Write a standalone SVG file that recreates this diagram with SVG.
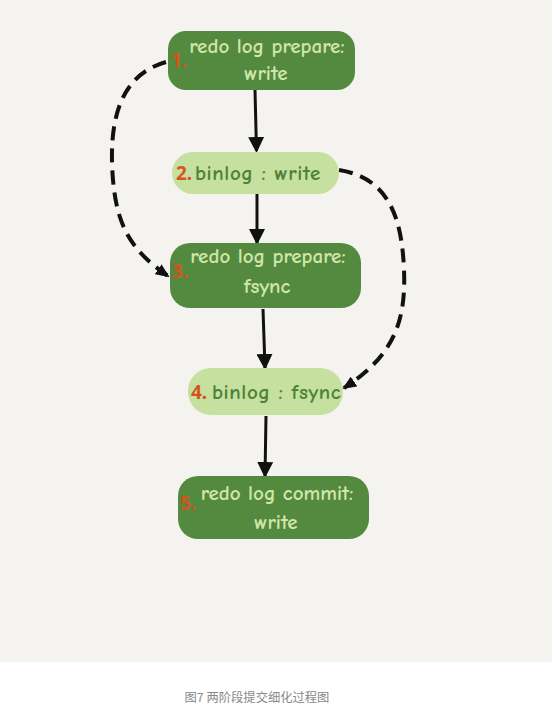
<svg xmlns="http://www.w3.org/2000/svg" width="552" height="711" viewBox="0 0 552 711">
<style>
.dark{fill:#548a3f}
.light{fill:#c5e09f}
.t1{font-family:"Comic Neue","Noto Sans",sans-serif;font-size:21px;fill:#cfe6a8;font-weight:bold;text-anchor:middle}
.t2{font-family:"Comic Neue","Noto Sans",sans-serif;font-size:21px;fill:#4e8236;font-weight:bold;letter-spacing:0.6px}
.num{font-family:"Noto Sans",sans-serif;font-size:19px;fill:#d8531c;font-weight:bold}
.solid{stroke:#111;stroke-width:3;fill:none}
.dash{stroke:#111;stroke-width:4;fill:none;stroke-dasharray:14 8}
.cap{font-family:"Noto Sans CJK SC",sans-serif;font-size:12.3px;fill:#888888;text-anchor:middle}
</style>
<defs>
<marker id="ah" markerWidth="14" markerHeight="12" refX="12" refY="6" orient="auto" markerUnits="userSpaceOnUse">
<path d="M0,0 L14,6 L0,12 z" fill="#111"/>
</marker>
<marker id="ahs" markerWidth="16" markerHeight="16" refX="14" refY="8" orient="auto" markerUnits="userSpaceOnUse">
<path d="M0,0 L16,8 L0,16 z" fill="#111"/>
</marker>
</defs>
<rect x="0" y="0" width="552" height="662" fill="#f4f3ef"/>
<rect x="0" y="662" width="552" height="49" fill="#ffffff"/>
<g id="connectors">
<path class="solid" d="M255,90 L256.5,151" marker-end="url(#ahs)"/>
<path class="solid" d="M257,194 L257,243" marker-end="url(#ahs)"/>
<path class="solid" d="M263,309 L265,368" marker-end="url(#ahs)"/>
<path class="solid" d="M266,416 L265,476" marker-end="url(#ahs)"/>
<path class="dash" d="M166,62 C120,75 108,120 113,180 C117,225 130,250 168,276" marker-end="url(#ah)"/>
<path class="dash" d="M339,170 C390,178 402,220 404,270 C406,320 395,355 344,388" marker-end="url(#ah)"/>
</g>
<g id="n1">
<rect class="dark" x="168" y="31" width="187" height="59" rx="18"/>
<text class="num" x="171" y="67">1.</text>
<text class="t1" x="267" y="53">redo log prepare:</text>
<text class="t1" x="266" y="80">write</text>
</g>
<g id="n2">
<rect class="light" x="172" y="152" width="167" height="42" rx="21"/>
<text class="num" x="176" y="180">2.</text>
<text class="t2" x="195" y="180">binlog : write</text>
</g>
<g id="n3">
<rect class="dark" x="170" y="243" width="191" height="65" rx="20"/>
<text class="num" x="172" y="278">3.</text>
<text class="t1" x="268" y="263">redo log prepare:</text>
<text class="t1" x="267" y="293">fsync</text>
</g>
<g id="n4">
<rect class="light" x="188" y="368" width="155" height="47" rx="23"/>
<text class="num" x="191" y="399">4.</text>
<text class="t2" x="212" y="399">binlog : fsync</text>
</g>
<g id="n5">
<rect class="dark" x="178" y="476" width="191" height="63" rx="20"/>
<text class="num" x="180" y="510">5.</text>
<text class="t1" x="277" y="500">redo log commit:</text>
<text class="t1" x="276" y="529">write</text>
</g>
<text class="cap" x="257" y="702">图7 两阶段提交细化过程图</text>
</svg>
